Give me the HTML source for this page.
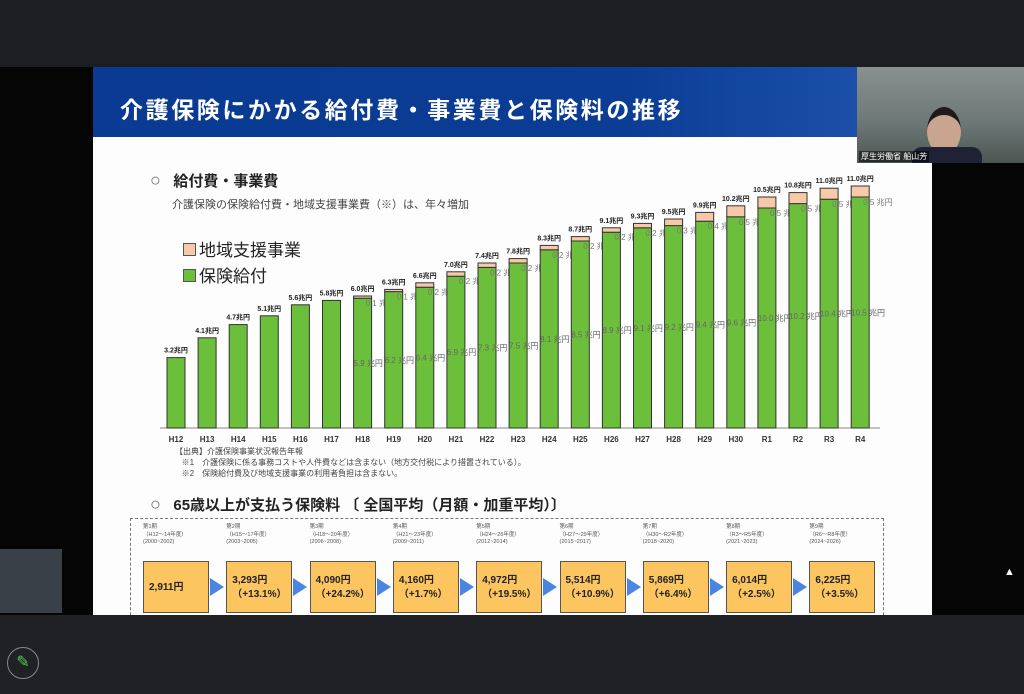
<!DOCTYPE html>
<html><head><meta charset="utf-8">
<style>
html,body{margin:0;padding:0;}
body{width:1024px;height:694px;background:#1e2023;position:relative;overflow:hidden;font-family:"Liberation Sans","Noto Sans CJK JP",sans-serif;}
.abs{position:absolute;}
</style></head><body>
<div class="abs" style="left:0;top:0;width:1024px;height:67px;background:#1c1e21"></div>
<div class="abs" style="left:0;top:67px;width:93px;height:548px;background:#050505"></div>
<div class="abs" style="left:932px;top:163px;width:92px;height:452px;background:#050505"></div>
<div class="abs" style="left:93px;top:67px;width:839px;height:548px;background:#fdfdfd"></div>
<div class="abs" style="left:93px;top:67px;width:764px;height:70px;background:linear-gradient(90deg,#0a3a92,#0b3d95 70%,#1b4fa8);"></div>
<div class="abs" style="left:120px;top:91px;color:#fff;font-size:23px;font-weight:bold;letter-spacing:2.6px;white-space:nowrap">介護保険にかかる給付費・事業費と保険料の推移</div>
<div class="abs" style="left:857px;top:67px;width:167px;height:96px;background:linear-gradient(180deg,#8a9190,#6c7775 60%,#4c5552);overflow:hidden">
  <div class="abs" style="left:70px;top:40px;width:34px;height:40px;border-radius:50%;background:#c9a48e;border-top:8px solid #1e1a1a"></div>
  <div class="abs" style="left:55px;top:80px;width:70px;height:20px;background:#1e2234;border-radius:10px 10px 0 0"></div>
  <div class="abs" style="left:2px;top:84px;font-size:8px;color:#fff;background:rgba(0,0,0,.5);padding:0 2px">厚生労働省 船山芳</div>
</div>
<div class="abs" style="left:150px;top:170px;font-size:15px;font-weight:bold;color:#222;white-space:nowrap"><span style="font-size:18px;font-weight:normal;color:#666">○</span>&nbsp;&nbsp;&nbsp;給付費・事業費</div>
<div class="abs" style="left:172px;top:196px;font-size:11px;color:#444;white-space:nowrap">介護保険の保険給付費・地域支援事業費（※）は、年々増加</div>
<div class="abs" style="left:183px;top:236px;font-size:17px;color:#222;white-space:nowrap"><span style="display:inline-block;width:11px;height:11px;background:#f7c9a8;border:1px solid #555;margin-right:3px"></span>地域支援事業</div>
<div class="abs" style="left:183px;top:262px;font-size:17px;color:#222;white-space:nowrap"><span style="display:inline-block;width:11px;height:11px;background:#6cbf3a;border:1px solid #555;margin-right:3px"></span>保険給付</div>

<svg class="abs" style="left:0;top:0" width="1024" height="694" id="chart"></svg>

<div class="abs" style="left:175px;top:446px;font-size:8px;color:#444;line-height:11px;white-space:nowrap">【出典】介護保険事業状況報告年報<br>&nbsp;&nbsp;&nbsp;※1　介護保険に係る事務コストや人件費などは含まない（地方交付税により措置されている）。<br>&nbsp;&nbsp;&nbsp;※2　保険給付費及び地域支援事業の利用者負担は含まない。</div>
<div class="abs" style="left:150px;top:494px;font-size:15px;font-weight:bold;color:#222;white-space:nowrap"><span style="font-size:18px;font-weight:normal;color:#666">○</span>&nbsp;&nbsp;&nbsp;65歳以上が支払う保険料 〔 全国平均（月額・加重平均）〕</div>
<div class="abs" style="left:130px;top:518px;width:752px;height:110px;border:1px dashed #777"></div>
<div id="prem"></div>
<div class="abs" style="left:0;top:615px;width:1024px;height:79px;background:#202124"></div>
<div class="abs" style="left:0;top:549px;width:62px;height:64px;background:#3a4048"></div>
<div class="abs" style="left:7px;top:647px;width:30px;height:30px;border-radius:50%;border:1px solid #888;color:#5c5;font-size:16px;text-align:center;line-height:30px">✎</div>
<div class="abs" style="left:1004px;top:566px;color:#fff;font-size:11px">▲</div>

<script>
const categories=["H12","H13","H14","H15","H16","H17","H18","H19","H20","H21","H22","H23","H24","H25","H26","H27","H28","H29","H30","R1","R2","R3","R4"];
const benefit=[3.2,4.1,4.7,5.1,5.6,5.8,5.9,6.2,6.4,6.9,7.3,7.5,8.1,8.5,8.9,9.1,9.2,9.4,9.6,10.0,10.2,10.4,10.5];
const regional=[0,0,0,0,0,0,0.1,0.1,0.2,0.2,0.2,0.2,0.2,0.2,0.2,0.2,0.3,0.4,0.5,0.5,0.5,0.5,0.5];
const totals=["3.2","4.1","4.7","5.1","5.6","5.8","6.0","6.3","6.6","7.0","7.4","7.8","8.3","8.7","9.1","9.3","9.5","9.9","10.2","10.5","10.8","11.0","11.0"];
const premiums=["2,911円","3,293円","4,090円","4,160円","4,972円","5,514円","5,869円","6,014円","6,225円"];
const premiumChanges=["","（+13.1%）","（+24.2%）","（+1.7%）","（+19.5%）","（+10.9%）","（+6.4%）","（+2.5%）","（+3.5%）"];
const periods=["（H12～14年度）","（H15～17年度）","（H18～20年度）","（H21～23年度）","（H24～26年度）","（H27～29年度）","（H30～R2年度）","（R3～R5年度）","（R6～R8年度）"];
const years=["(2000~2002)","(2003~2005)","(2006~2008)","(2009~2011)","(2012~2014)","(2015~2017)","(2018~2020)","(2021~2023)","(2024~2026)"];

const svg=document.getElementById('chart');
const NS='http://www.w3.org/2000/svg';
const x0=176,step=31.1,bw=18,base=428,scale=22;
const xPos=i=>x0+i*step;
const yPos=v=>base-v*scale;
function mk(t,a){const e=document.createElementNS(NS,t);for(const k in a)e.setAttribute(k,a[k]);svg.appendChild(e);return e;}
const axis=mk('line',{x1:160,x2:880,y1:base,y2:base,stroke:'#888','stroke-width':1});


categories.forEach((c,i)=>{
  const cx=xPos(i);
  const g=mk('rect',{x:cx-bw/2,y:yPos(benefit[i]),width:bw,height:benefit[i]*scale,fill:'#6cbf3a',stroke:'#333','stroke-width':1});
  
  
  if(regional[i]>0){
    const r=mk('rect',{x:cx-bw/2,y:yPos(benefit[i]+regional[i]),width:bw,height:regional[i]*scale,fill:'#f7c9a8',stroke:'#333','stroke-width':1});
    
    
    const rl=mk('text',{x:cx+bw/2-6,y:yPos(benefit[i])+8,'font-size':8,fill:'#777'});
    rl.textContent=regional[i].toFixed(1)+' 兆円';
    
    
    const bl=mk('text',{x:cx-bw/2,y:yPos(benefit[i]/2)+3,'font-size':8,fill:'#666'});
    bl.textContent=benefit[i].toFixed(1)+' 兆円';
    
    
  }
  const tl=mk('text',{x:cx,y:yPos(benefit[i]+regional[i])-5,'font-size':7,'font-weight':'bold','text-anchor':'middle',fill:'#222'});
  tl.textContent=totals[i]+'兆円';
  
  
  const xl=mk('text',{x:cx,y:base+14,'font-size':8,'font-weight':'bold','text-anchor':'middle',fill:'#333'});
  xl.textContent=c;
  
  
});

const prem=document.getElementById('prem');
premiums.forEach((p,i)=>{
  const left=143+i*83.3;
  const h=document.createElement('div');
  
  
  h.className='abs';
  h.style.cssText=`left:${left}px;top:524px;font-size:5.5px;color:#555;line-height:7.5px;white-space:nowrap`;
  h.innerHTML=`第${i+1}期<br>${periods[i]}<br>${years[i]}`;
  prem.appendChild(h);
  const b=document.createElement('div');
  
  
  b.className='abs';
  b.style.cssText=`left:${left}px;top:561px;width:66px;height:52px;background:#fcc560;border:1px solid #555;box-sizing:border-box;font-size:10px;font-weight:bold;color:#222;padding:${premiumChanges[i]?'12px':'19px'} 0 0 5px;line-height:14px;white-space:nowrap`;
  b.innerHTML=p+(premiumChanges[i]?'<br>'+premiumChanges[i]:'');
  prem.appendChild(b);
  if(i<8){
    const a=document.createElement('div');
    
    
    a.className='abs';
    a.style.cssText=`left:${left+67}px;top:578px;width:0;height:0;border-top:9px solid transparent;border-bottom:9px solid transparent;border-left:14px solid #4a86e0`;
    prem.appendChild(a);
  }
});
</script>
</body></html>
